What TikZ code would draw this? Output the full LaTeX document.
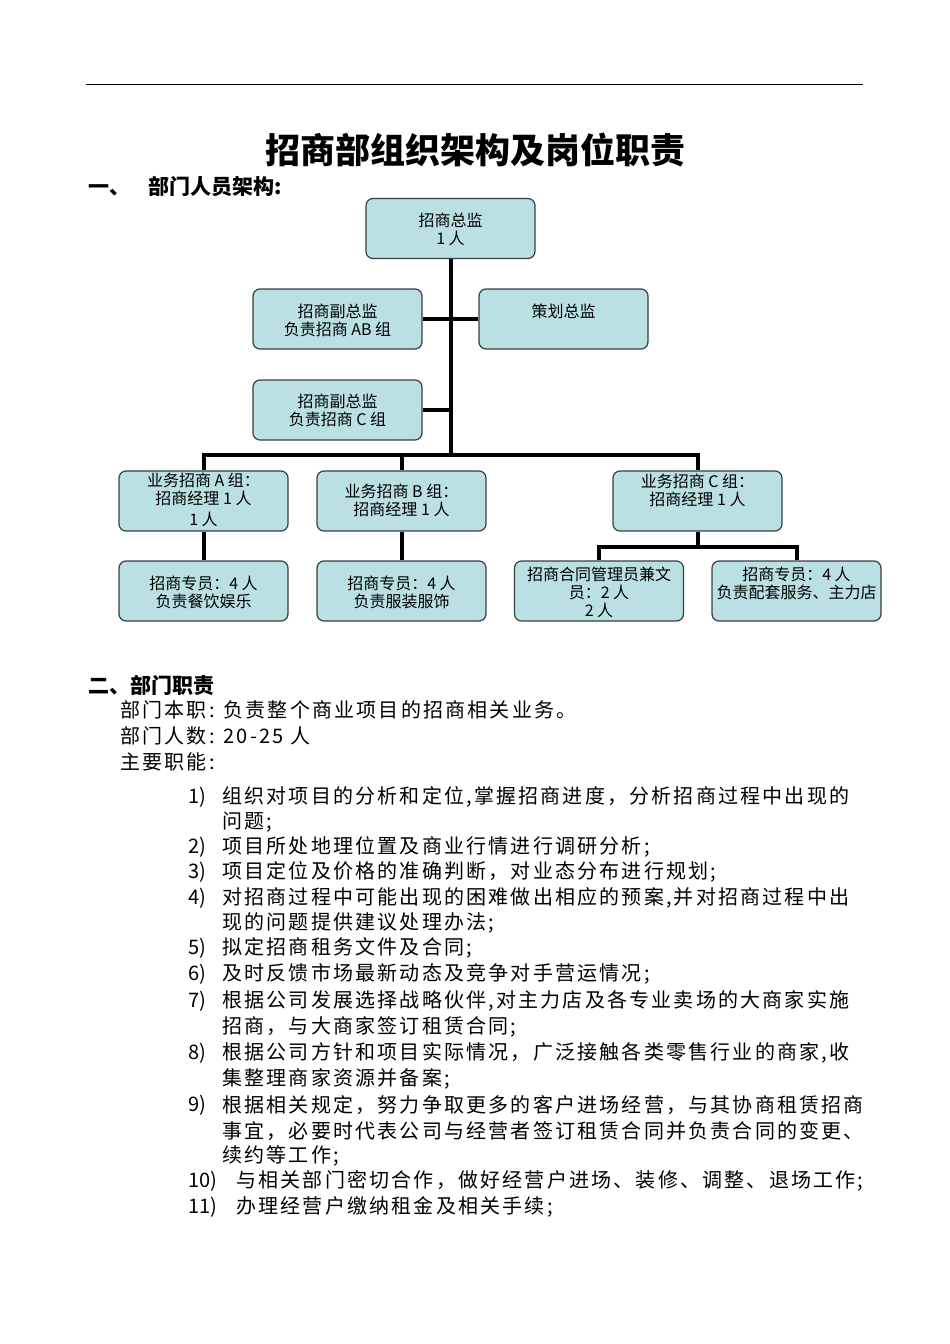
\documentclass[tikz,border=0pt]{standalone}
\usepackage{fontspec}
\setmainfont{Noto Sans CJK SC}
\newfontfamily\spacedcjk[LetterSpace=11]{Noto Sans CJK SC}
\usetikzlibrary{positioning}
\definecolor{boxfill}{RGB}{186,224,227}
\definecolor{boxline}{RGB}{55,65,65}

\tikzset{
  orgbox/.style={draw=boxline, fill=boxfill, rounded corners=7pt, line width=1.2pt,
    minimum width=169pt, minimum height=60pt, inner sep=0pt},
  boxtext/.style={font=\fontsize{16}{18}\selectfont, align=center, inner sep=0pt},
  link/.style={line width=4pt},
  body/.style={anchor=west, inner sep=0pt, font=\fontsize{20}{24}\selectfont\spacedcjk},
  itemno/.style={anchor=west, inner sep=0pt, font=\fontsize{20}{24}\selectfont},
  head/.style={anchor=west, inner sep=0pt, font=\fontsize{21}{24}\selectfont\bfseries}
}

\begin{document}
\begin{tikzpicture}[x=1pt,y=-1pt]
\useasboundingbox[fill=white] (0,0) rectangle (950,1344);
\draw[line width=1pt] (86,84) -- (863,84);
\node[inner sep=0pt, font=\fontsize{35}{40}\selectfont\bfseries] (title) at (475,150) {招商部组织架构及岗位职责};
\node[head] (head1) at (88,187) {一、\hspace{18pt}部门人员架构:};

% boxes
\node[orgbox] (zj) at (450.5,228.5) {};
\node[orgbox] (fzAB) at (337.5,319) {};
\node[orgbox] (chzj) at (563.5,319) {};
\node[orgbox] (fzC) at (337.5,410) {};
\node[orgbox] (ywA) at (203.5,501) {};
\node[orgbox] (ywB) at (401.5,501) {};
\node[orgbox] (ywC) at (697.5,501) {};
\node[orgbox] (zyA) at (203.5,591) {};
\node[orgbox] (zyB) at (401.5,591) {};
\node[orgbox] (htgl) at (599,591) {};
\node[orgbox] (zyC) at (796.5,591) {};

% texts in boxes
\node[boxtext] (zjT) at (450.5,229.5) {招商总监\\1 人};
\node[boxtext] (fzABT) at (337.5,320) {招商副总监\\负责招商 AB 组};
\node[boxtext] (chzjT) at (563.5,311) {策划总监};
\node[boxtext] (fzCT) at (337.5,410) {招商副总监\\负责招商 C 组};
\node[boxtext] (ywAT) at (203.5,500) {业务招商 A 组：\\招商经理 1 人\\[3pt]1 人};
\node[boxtext] (ywBT) at (401.5,500.5) {业务招商 B 组：\\招商经理 1 人};
\node[boxtext] (ywCT) at (697.5,490.5) {业务招商 C 组：\\招商经理 1 人};
\node[boxtext] (zyAT) at (203.5,592.5) {招商专员：4 人\\负责餐饮娱乐};
\node[boxtext] (zyBT) at (401.5,592.5) {招商专员：4 人\\负责服装服饰};
\node[boxtext] (htglT) at (599,592) {招商合同管理员兼文\\员：2 人\\2 人};
\node[boxtext] (zyCT) at (796.5,583.5) {招商专员：4 人\\负责配套服务、主力店};

% connectors
\coordinate (bus) at (451,455);
\coordinate (busC) at (697.5,547);
\draw[link] (zj.south) -- (zj.south |- bus);
\draw[link] (fzAB.east) -- (chzj.west);
\draw[link] (fzC.east) -- (fzC.east -| zj.south);
\draw[link] (ywA.north) |- (bus) -| (ywC.north);
\draw[link] (ywB.north) -- (ywB.north |- bus);
\draw[link] (ywA.south) -- (zyA.north);
\draw[link] (ywB.south) -- (zyB.north);
\draw[link] (ywC.south) -- (busC);
\draw[link] (htgl.north) |- (busC) -| (zyC.north);

% part two
\node[head] (head2) at (88,685) {二、部门职责};
\node[body] (duty) at (120,710) {部门本职: 负责整个商业项目的招商相关业务。};
\node[body] (staff) at (120,736) {部门人数: 20-25 人};
\node[body] (func) at (120,762) {主要职能:};

\node[itemno] (n1) at (188,797) {1)};
\node[body] (t1a) at (222,797) {组织对项目的分析和定位,掌握招商进度，分析招商过程中出现的};
\node[body] (t1b) at (222,822) {问题;};
\node[itemno] (n2) at (188,847) {2)};
\node[body] (t2) at (222,847) {项目所处地理位置及商业行情进行调研分析;};
\node[itemno] (n3) at (188,872) {3)};
\node[body] (t3) at (222,872) {项目定位及价格的准确判断，对业态分布进行规划;};
\node[itemno] (n4) at (188,898) {4)};
\node[body] (t4a) at (222,898) {对招商过程中可能出现的困难做出相应的预案,并对招商过程中出};
\node[body] (t4b) at (222,923) {现的问题提供建议处理办法;};
\node[itemno] (n5) at (188,948) {5)};
\node[body] (t5) at (222,948) {拟定招商租务文件及合同;};
\node[itemno] (n6) at (188,974) {6)};
\node[body] (t6) at (222,974) {及时反馈市场最新动态及竞争对手营运情况;};
\node[itemno] (n7) at (188,1001) {7)};
\node[body] (t7a) at (222,1001) {根据公司发展选择战略伙伴,对主力店及各专业卖场的大商家实施};
\node[body] (t7b) at (222,1027) {招商，与大商家签订租赁合同;};
\node[itemno] (n8) at (188,1053) {8)};
\node[body] (t8a) at (222,1053) {根据公司方针和项目实际情况，广泛接触各类零售行业的商家,收};
\node[body] (t8b) at (222,1079) {集整理商家资源并备案;};
\node[itemno] (n9) at (188,1105) {9)};
\node[body] (t9a) at (222,1105) {根据相关规定，努力争取更多的客户进场经营，与其协商租赁招商};
\node[body] (t9b) at (222,1131) {事宜，必要时代表公司与经营者签订租赁合同并负责合同的变更、};
\node[body] (t9c) at (222,1156) {续约等工作;};
\node[itemno] (n10) at (188,1181) {10)};
\node[body] (t10) at (236,1181) {与相关部门密切合作，做好经营户进场、装修、调整、退场工作;};
\node[itemno] (n11) at (188,1207) {11)};
\node[body] (t11) at (236,1207) {办理经营户缴纳租金及相关手续;};
\end{tikzpicture}
\end{document}
